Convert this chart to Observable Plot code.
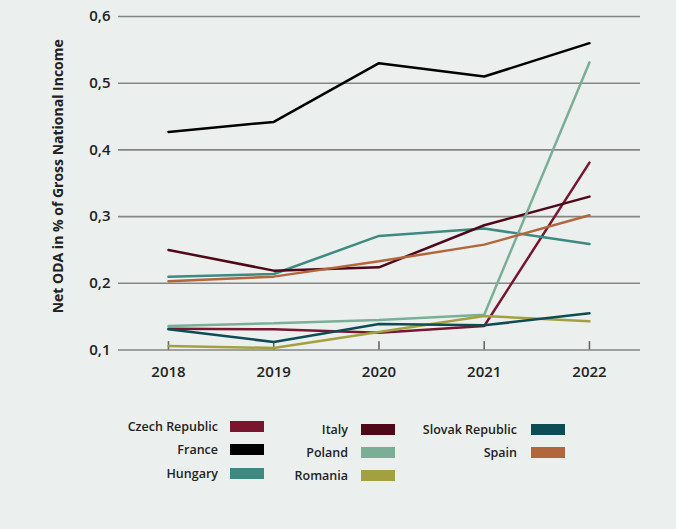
<!DOCTYPE html>
<html>
<head>
<meta charset="utf-8">
<script src="https://cdn.jsdelivr.net/npm/d3@7"></script>
<script src="https://cdn.jsdelivr.net/npm/@observablehq/plot@0.6"></script>
<style>
  html, body { margin: 0; padding: 0; background: #ebf0ee; }
  #wrap { width: 676px; height: 529px; background: #ebf0ee; font-family: "Open Sans", sans-serif; }
  #legend { position: relative; width: 676px; height: 129px; }
  .item { position: absolute; display: flex; align-items: center; font-size: 12.5px; font-weight: 600; color: #222; }
  .item span.lab { text-align: right; }
  .item span.sw { display: inline-block; width: 34px; height: 11px; margin-left: 12px; }
</style>
</head>
<body>
<div id="wrap"><div id="chart"></div><div id="legend"></div></div>
<script>
const years = [2018, 2019, 2020, 2021, 2022];
const yTicks = [0.1, 0.2, 0.3, 0.4, 0.5, 0.6];
const countries = ["Czech Republic", "France", "Hungary", "Italy", "Poland", "Romania", "Slovak Republic", "Spain"];
const colors = ["#7a1530", "#000000", "#3d8a80", "#50071a", "#7aae97", "#a3a13f", "#0d4c55", "#b4663b"];

const czech   = [0.132, 0.131, 0.126, 0.136, 0.381];
const france  = [0.427, 0.442, 0.530, 0.510, 0.560];
const hungary = [0.210, 0.214, 0.271, 0.282, 0.259];
const italy   = [0.250, 0.219, 0.224, 0.287, 0.330];
const poland  = [0.136, 0.140, 0.145, 0.153, 0.531];
const romania = [0.106, 0.103, 0.127, 0.151, 0.143];
const slovak  = [0.131, 0.112, 0.139, 0.137, 0.155];
const spain   = [0.203, 0.210, 0.233, 0.258, 0.302];

const series = [czech, france, hungary, italy, poland, romania, slovak, spain];
const data = [];
countries.forEach((c, i) => years.forEach((yr, j) => data.push({country: c, year: yr, value: series[i][j]})));

const yFmt = d => d3.format(".1f")(d).replace(".", ",");

const chart = Plot.plot({
  width: 676,
  height: 400,
  marginLeft: 118,
  marginRight: 36,
  marginTop: 16,
  marginBottom: 50.5,
  style: {background: "transparent", fontFamily: "Open Sans, sans-serif"},
  x: {domain: [2017.525, 2022.485]},
  y: {domain: [0.1, 0.6]},
  color: {domain: countries, range: colors},
  marks: [
    Plot.ruleY(yTicks, {stroke: "#858585", strokeWidth: 1.6}),
    Plot.ruleX(years, {x: d => d, y1: 0.1, y2: 0.1125, stroke: "#666", strokeWidth: 1.6}),
    Plot.axisY({ticks: yTicks, tickFormat: yFmt, tickSize: 0, tickPadding: 8, fontSize: 15, fontWeight: 600, fill: "#222",
      label: "Net ODA in % of Gross National Income", labelAnchor: "center", labelArrow: "none", labelOffset: 61}),
    Plot.axisX({ticks: years, tickFormat: d3.format("d"), tickSize: 0, tickPadding: 16, fontSize: 15, fontWeight: 600, fill: "#222", label: null}),
    Plot.line(data, {x: "year", y: "value", z: "country", stroke: "country", strokeWidth: 2.5, strokeLinejoin: "miter"})
  ]
});
chart.querySelectorAll("g[aria-label='y-axis label']").forEach(el => {
  el.setAttribute("font-size", "14"); el.setAttribute("font-weight", "700");
  el.querySelectorAll("text").forEach(t => {
    t.setAttribute("x", (+t.getAttribute("x") || 0) + 7);
    t.setAttribute("y", (+t.getAttribute("y") || 0) + 5);
  });
});
document.getElementById("chart").appendChild(chart);

// legend
const legendPos = [
  {right: 218, swx: 230, cy: 26}, {right: 218, swx: 230, cy: 49}, {right: 218, swx: 230, cy: 73},
  {right: 348, swx: 361, cy: 29}, {right: 348, swx: 361, cy: 52}, {right: 348, swx: 361, cy: 75},
  {right: 517, swx: 531, cy: 29}, {right: 517, swx: 531, cy: 52}
];
const legend = document.getElementById("legend");
countries.forEach((c, i) => {
  const p = legendPos[i];
  const item = document.createElement("div");
  item.className = "item";
  item.style.right = (676 - (p.swx + 34)) + "px";
  item.style.top = (p.cy - 10) + "px";
  item.style.height = "20px";
  item.innerHTML = `<span class="lab">${c}</span><span class="sw" style="background:${colors[i]}; margin-left:${p.swx - p.right}px"></span>`;
  legend.appendChild(item);
});
</script>
</body>
</html>
